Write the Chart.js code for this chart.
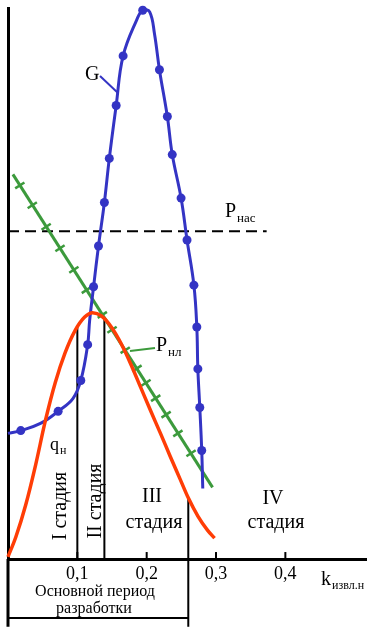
<!DOCTYPE html>
<html>
<head>
<meta charset="utf-8">
<script src="https://cdn.jsdelivr.net/npm/chart.js@4"></script>
<style>
  html, body { margin: 0; padding: 0; background: #fff; }
  #wrap { width: 374px; height: 627px; position: relative; }
</style>
</head>
<body>
<div id="wrap"><canvas id="stageChart"></canvas></div>
<script>
// Кривая G (линия через точки)
const gX = [0, 0.0184, 0.0468, 0.0723, 0.0936, 0.105, 0.1149, 0.1177, 0.1234, 0.1305, 0.139, 0.1461, 0.156, 0.166, 0.1858, 0.1943, 0.2043, 0.2113, 0.2184, 0.2298, 0.2369, 0.2496, 0.2582, 0.2681, 0.2723, 0.2738, 0.2766, 0.2794, 0.2809];
const gY = [22.8, 23.3, 24.6, 26.8, 29.1, 32.4, 38.9, 43.2, 49.4, 56.8, 64.7, 72.7, 82.3, 91.3, 97.9, 99.6, 99.3, 95.3, 88.8, 80.3, 73.4, 65.5, 57.9, 49.7, 42.1, 34.5, 27.5, 19.7, 12.8];
// точки на кривой G
const gDotX = [0.0184, 0.0723, 0.105, 0.1149, 0.1234, 0.1305, 0.139, 0.1461, 0.156, 0.166, 0.1943, 0.2184, 0.2298, 0.2369, 0.2496, 0.2582, 0.2681, 0.2723, 0.2738, 0.2766, 0.2794];
const gDotY = [23.3, 26.8, 32.4, 38.9, 49.4, 56.8, 64.7, 72.7, 82.3, 91.3, 99.6, 88.8, 80.3, 73.4, 65.5, 57.9, 49.7, 42.1, 34.5, 27.5, 19.7];

// Добыча нефти qн
const qX = [0, 0.0113, 0.0255, 0.0397, 0.0539, 0.0681, 0.0823, 0.0965, 0.1106, 0.122, 0.1348, 0.149, 0.1631, 0.1773, 0.1915, 0.2057, 0.2199, 0.234, 0.2482, 0.2596, 0.2738, 0.2879, 0.2979];
const qY = [0.4, 4.0, 9.8, 17.0, 25.1, 32.0, 37.4, 41.4, 43.9, 44.7, 44.1, 42.1, 39.1, 35.3, 31.1, 26.9, 22.8, 18.6, 14.5, 11.2, 7.8, 5.2, 3.8];

// Пластовое давление Pнл
const pnlX = [0.0071, 0.295];
const pnlY = [69.8, 13.0];
const pnlTickX = [0.017, 0.035, 0.055, 0.075, 0.095, 0.113, 0.136, 0.150, 0.169, 0.186, 0.199, 0.213, 0.228, 0.245, 0.264];
const pnlTickY = [67.8, 64.2, 60.3, 56.4, 52.5, 48.8, 44.3, 41.6, 37.9, 34.6, 32.0, 29.2, 26.2, 22.8, 19.2];

// Давление насыщения Pнас
const pnasX = [0, 0.373];
const pnasY = [59.5, 59.5];

// Границы стадий
const stageX = [0.1, 0.139, 0.26];
const stageTopY = [42.1, 43.6, 11.0];
const periodBottomY = -12.3;   // низ рамки "Основной период"
const periodLineY = -10.7;

// Подписи оси x
const xTicks = [0.1, 0.2, 0.3, 0.4];

const toPts = (xs, ys) => xs.map((v, i) => ({ x: v, y: ys[i] }));

const BLUE = '#3434c4';
const RED = '#ff3d06';
const GREEN = '#3c9a3c';
const SERIF = '"Liberation Serif", "DejaVu Serif", serif';

// Подписи на графике
const textPlugin = {
    id: 'textLabels',
    afterDatasetsDraw(chart) {
        const ctx = chart.ctx;
        ctx.save();
        ctx.fillStyle = '#000';
        ctx.textAlign = 'left';
        ctx.textBaseline = 'alphabetic';

        function withSub(main, sub, x, y, size, subSize, drop) {
            ctx.font = size + 'px ' + SERIF;
            ctx.fillText(main, x, y);
            const w = ctx.measureText(main).width;
            ctx.font = subSize + 'px ' + SERIF;
            ctx.fillText(sub, x + w + 1, y + drop);
        }

        // G и выноска
        ctx.font = '20px ' + SERIF;
        ctx.fillText('G', 85, 80);
        ctx.strokeStyle = BLUE;
        ctx.lineWidth = 2;
        ctx.beginPath();
        ctx.moveTo(100, 76);
        ctx.lineTo(118, 93);
        ctx.stroke();

        withSub('P', 'нас', 225, 217, 20, 13, 5);
        withSub('P', 'нл', 156, 351, 20, 13, 5);
        ctx.strokeStyle = GREEN;
        ctx.beginPath();
        ctx.moveTo(130, 351);
        ctx.lineTo(155, 348);
        ctx.stroke();

        withSub('q', 'н', 50, 450, 18, 12, 4);

        // вертикальные подписи стадий
        ctx.font = '20px ' + SERIF;
        ctx.textAlign = 'center';
        [['I стадия', 66, 506], ['II стадия', 101, 501]].forEach(([t, x, y]) => {
            ctx.save();
            ctx.translate(x, y);
            ctx.rotate(-Math.PI / 2);
            ctx.fillText(t, 0, 0);
            ctx.restore();
        });
        ctx.fillText('III', 152, 502);
        ctx.fillText('стадия', 154, 528);
        ctx.fillText('IV', 273, 504);
        ctx.fillText('стадия', 276, 528);

        ctx.textAlign = 'left';
        withSub('k', 'извл.н', 321, 585, 20, 12, 4);

        ctx.textAlign = 'center';
        ctx.font = '16px ' + SERIF;
        ctx.fillText('Основной период', 95, 596);
        ctx.fillText('разработки', 94, 613);
        ctx.restore();
    }
};

function drawChart() {
    const ctx = document.getElementById('stageChart').getContext('2d');
    const datasets = [
        {   // qн
            data: toPts(qX, qY), borderColor: RED, borderWidth: 3.5,
            cubicInterpolationMode: 'monotone', pointRadius: 0, order: 1, clip: false
        },
        {   // точки G
            data: toPts(gDotX, gDotY), showLine: false, pointRadius: 4.5,
            pointBackgroundColor: BLUE, pointBorderColor: BLUE, pointBorderWidth: 0, order: 2, clip: false
        },
        {   // кривая G
            data: toPts(gX, gY), borderColor: BLUE, borderWidth: 3,
            tension: 0.4, pointRadius: 0, order: 3, clip: false
        },
        {   // Pнл
            data: toPts(pnlX, pnlY), borderColor: GREEN, borderWidth: 3,
            pointRadius: 0, order: 4
        },
        {   // штрихи на Pнл
            data: toPts(pnlTickX, pnlTickY), showLine: false, pointStyle: 'line',
            rotation: -33, pointRadius: 5.5, pointBorderWidth: 2.5, pointBorderColor: GREEN, order: 5
        },
        {   // Pнас
            data: toPts(pnasX, pnasY), borderColor: '#000', borderWidth: 2,
            borderDash: [11, 6], pointRadius: 0, order: 6
        },
        {   // засечки оси x
            data: xTicks.map(v => ({ x: v, y: 0.63 })), showLine: false, pointStyle: 'line',
            rotation: 90, pointRadius: 3.5, pointBorderWidth: 2, pointBorderColor: '#000', order: 7
        }
    ];
    // границы стадий
    stageX.forEach((v, i) => {
        const bottom = i === stageX.length - 1 ? periodBottomY : 0;
        datasets.push({
            data: [{ x: v, y: bottom }, { x: v, y: stageTopY[i] }],
            borderColor: '#000', borderWidth: 2, pointRadius: 0, order: 8, clip: false
        });
    });
    // рамка "Основной период разработки" и продолжение оси y
    datasets.push({
        data: [{ x: 0, y: periodLineY }, { x: stageX[2], y: periodLineY }],
        borderColor: '#000', borderWidth: 2, pointRadius: 0, order: 8, clip: false
    });
    datasets.push({
        data: [{ x: 0, y: 0 }, { x: 0, y: periodBottomY }],
        borderColor: '#000', borderWidth: 3, pointRadius: 0, order: 8, clip: false
    });

    new Chart(ctx, {
        type: 'line',
        data: { datasets: datasets },
        options: {
            responsive: true,
            maintainAspectRatio: false,
            animation: false,
            events: [],
            layout: { padding: { top: 6, right: 3, left: 0, bottom: 0 } },
            plugins: { legend: { display: false }, tooltip: { enabled: false } },
            scales: {
                x: {
                    type: 'linear', min: 0, max: 0.5163,
                    grid: { display: false, drawTicks: false },
                    border: { display: true, color: '#000', width: 3 },
                    afterBuildTicks: s => { s.ticks = xTicks.map(v => ({ value: v })); },
                    afterFit: s => { s.height = 68; },
                    ticks: {
                        autoSkip: false, maxRotation: 0, padding: 4, color: '#000',
                        font: { family: SERIF, size: 18 },
                        callback: v => String(v).replace('.', ',')
                    }
                },
                y: {
                    type: 'linear', min: 0, max: 100,
                    grid: { display: false, drawTicks: false },
                    border: { display: true, color: '#000', width: 3 },
                    ticks: { display: false },
                    afterFit: s => { s.width = 7; }
                }
            }
        },
        plugins: [textPlugin]
    });
}

document.addEventListener('DOMContentLoaded', () => {
    drawChart();
});
</script>
</body>
</html>
